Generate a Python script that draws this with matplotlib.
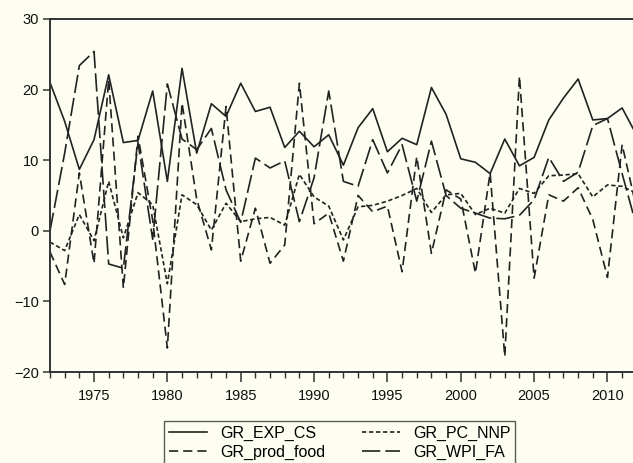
import matplotlib
matplotlib.use("Agg")
import matplotlib.pyplot as plt
from matplotlib.ticker import MultipleLocator

plt.rcParams['font.family'] = ['Liberation Sans', 'DejaVu Sans']

years = list(range(1972, 2013))

gr_exp_cs = [21.0, 15.5, 8.7, 12.9, 22.1, 12.5, 12.8, 19.8, 7.0, 23.0,
             11.0, 18.0, 16.2, 20.9, 16.9, 17.5, 11.8, 14.1, 11.9, 13.6,
             9.3, 14.6, 17.3, 11.2, 13.1, 12.2, 20.3, 16.5, 10.2, 9.7,
             8.1, 13.0, 9.2, 10.4, 15.7, 18.8, 21.5, 15.7, 15.9, 17.4,
             13.5]

gr_pc_nnp = [-1.6, -2.8, 2.3, -1.4, 7.0, -1.0, 5.4, 3.7, -7.5, 5.1,
             3.7, 0.1, 3.9, 1.3, 1.7, 1.9, 0.8, 8.0, 4.8, 3.5,
             -1.3, 3.4, 3.6, 4.2, 5.0, 6.0, 2.6, 5.1, 5.3, 2.3,
             3.2, 2.5, 6.0, 5.3, 7.8, 7.9, 8.1, 4.8, 6.5, 6.3,
             5.3]

gr_prod_food = [-3.0, -7.6, 8.2, -4.6, 21.4, -8.1, 13.4, 1.5, -16.6, 18.1,
                4.5, -2.7, 17.6, -4.3, 3.2, -4.6, -2.0, 20.9, 1.0, 2.5,
                -4.3, 5.0, 2.7, 3.5, -5.8, 10.5, -3.2, 5.8, 4.5, -6.0,
                8.2, -17.8, 21.9, -6.7, 5.1, 4.2, 6.1, 1.6, -6.6, 12.2,
                3.0]

gr_wpi_fa = [0.0, 11.0, 23.4, 25.4, -4.7, -5.3, 12.5, -1.2, 20.8, 13.0,
             11.5, 14.5, 5.8, 1.2, 10.3, 8.9, 9.9, 1.3, 7.5, 19.8,
             7.0, 6.3, 12.9, 8.2, 12.2, 4.2, 12.7, 5.0, 3.2, 2.5,
             1.8, 1.7, 2.2, 4.4, 10.4, 7.0, 8.3, 14.9, 15.9, 8.1,
             0.5]

bg = '#fdfdf1'
ink = '#222222'

fig = plt.figure(figsize=(6.33, 4.63), dpi=100, facecolor=bg)
ax = fig.add_axes([50/633, 1-372/463, 1-50/633, (372-19)/463], facecolor=bg)

ax.plot(years, gr_exp_cs, color=ink, lw=1.2, label='GR_EXP_CS')
ax.plot(years, gr_prod_food, color=ink, lw=1.2, dashes=(5.5, 3), label='GR_prod_food')
ax.plot(years, gr_pc_nnp, color=ink, lw=1.2, dashes=(2.6, 1.6), label='GR_PC_NNP')
ax.plot(years, gr_wpi_fa, color=ink, lw=1.2, dashes=(11, 3), label='GR_WPI_FA')

ax.set_xlim(1972, 1972 + 583/14.67)
ax.set_ylim(-20, 30)
ax.yaxis.set_major_locator(MultipleLocator(10))
ax.xaxis.set_major_locator(MultipleLocator(5))
ax.xaxis.set_minor_locator(MultipleLocator(1))

for s in ['left', 'top', 'bottom']:
    ax.spines[s].set_color('#333333')
    ax.spines[s].set_linewidth(1.4)
ax.spines['right'].set_visible(False)

ax.tick_params(axis='both', which='major', direction='out', color='#333333',
               labelsize=10.5, labelcolor='#111111', width=1.1)
ax.tick_params(axis='y', which='major', length=5, pad=3)
ax.tick_params(axis='x', which='major', length=7, pad=5)
ax.tick_params(axis='x', which='minor', length=4, width=1.0, color='#333333')

leg = fig.legend(loc='upper left', bbox_to_anchor=(164/633, 1-421/463),
                 ncol=2, frameon=True, fontsize=11.5, handlelength=2.4,
                 columnspacing=2.3, handletextpad=0.8, labelspacing=0.25,
                 borderpad=0.3, borderaxespad=0, fancybox=False)
leg.get_frame().set_edgecolor('#333333')
leg.get_frame().set_linewidth(1.0)
leg.get_frame().set_facecolor(bg)

fig.savefig('out.png', dpi=100, facecolor=bg)
